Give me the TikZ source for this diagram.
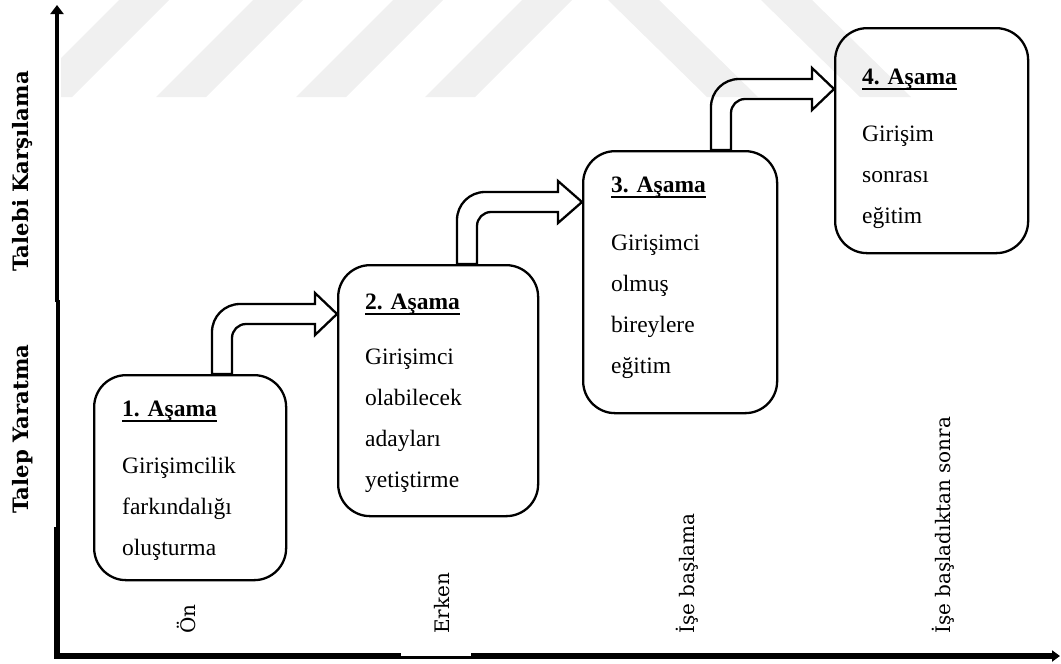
\documentclass[tikz,border=0pt]{standalone}
\usepackage{fontspec}
\setmainfont{Liberation Serif}
\newfontfamily\labfont{DejaVu Serif}
\usetikzlibrary{arrows.meta,calc}

\newcommand\ulhead[1]{\setbox0\hbox{\bfseries #1}\rlap{\copy0}\rule[-5.5pt]{\wd0}{2pt}}

\newcommand\stagearrow[5]{%
  \coordinate (sa) at (#3,#4);
  \coordinate (sb) at ({#3+20},#4);
  \coordinate (st) at (0,{#4+10});
  \draw[blk] (#1.north -| sa) -- ({#3},{#4+28})
     .. controls ({#3},{#4+12.5}) and ({#3+12.5},{#4}) .. ({#3+28},{#4})
     -- (#5,#4) -- (#5,{#4-11}) -- (#2.west |- st) -- (#5,{#4+31}) -- (#5,{#4+20})
     -- ({#3+34},{#4+20}) .. controls ({#3+26.3},{#4+20}) and ({#3+20},{#4+26.3}) .. ({#3+20},{#4+34})
     -- (#1.north -| sb) -- cycle;
}

\tikzset{
  stage/.style={draw, line width=2.3pt, rounded corners=32pt, inner sep=0, anchor=north west},
  stagetxt/.style={anchor=north west, inner sep=0, align=left, font=\fontsize{23.5}{41}\selectfont},
  blk/.style={draw, line width=2.3pt, line join=miter},
  axlab/.style={rotate=90, anchor=west, inner sep=0, font=\labfont\fontsize{20}{22}\selectfont},
  sidelab/.style={rotate=90, anchor=west, inner sep=0, font=\labfont\bfseries\fontsize{21.2}{23}\selectfont},
  wm/.style={fill=black!6, draw=none},
}

\begin{document}
\begin{tikzpicture}[x=1pt,y=-1pt]
\useasboundingbox (0,0) rectangle (1061,664);

% watermark
\begin{scope}
\clip (61,0) rectangle (1061,97);
\foreach \b in {22,156,296,425} \fill[wm] (\b,97) -- (\b+50,97) -- (\b+147,0) -- (\b+97,0) -- cycle;
\foreach \t in {608,761} \fill[wm] (\t,0) -- (\t+51,0) -- (\t+150,97) -- (\t+99,97) -- cycle;
\end{scope}

% axes
\coordinate (O) at (57,656);
\coordinate (ytop) at (57,5);
\coordinate (xend) at (1060,656);
\draw[line width=6pt] (O) -- (57,527);
\draw[line width=4.5pt] (58,528) -- (58,300);
\draw[line width=4.5pt,-{Triangle[width=13pt,length=9pt]}] (57,302) -- (ytop);
\draw[line width=5.5pt] (54,656) -- (401,656);
\draw[line width=3pt] (400,657.3) -- (472,657.3);
\draw[line width=5.5pt,-{Triangle[width=11pt,length=8pt]}] (471,656) -- (xend);

% stage boxes
\node[stage, minimum width=192pt, minimum height=205pt] (b1) at (93,374) {};
\node[stage, minimum width=200pt, minimum height=251pt] (b2) at (337,264) {};
\node[stage, minimum width=194pt, minimum height=262pt] (b3) at (582,150) {};
\node[stage, minimum width=193pt, minimum height=225pt] (b4) at (834,27) {};

\node[stagetxt] (t1) at ($(b1.north west)+(29,27)$) {\ulhead{1. Aşama}\\[16pt]Girişimcilik\\farkındalığı\\oluşturma};
\node[stagetxt] (t2) at ($(b2.north west)+(28,30)$) {\ulhead{2. Aşama}\\[14pt]Girişimci\\olabilecek\\adayları\\yetiştirme};
\node[stagetxt] (t3) at ($(b3.north west)+(29,27)$) {\ulhead{3. Aşama}\\[17pt]Girişimci\\olmuş\\bireylere\\eğitim};
\node[stagetxt] (t4) at ($(b4.north west)+(28,42)$) {\ulhead{4. Aşama}\\[16pt]Girişim\\sonrası\\eğitim};

% block arrows
\stagearrow{b1}{b2}{212}{304}{315}
\stagearrow{b2}{b3}{457}{192}{558}
\stagearrow{b3}{b4}{711}{79}{812}

% labels
\node[axlab] (l1) at (186,634) {Ön};
\node[axlab] (l2) at (442,634) {Erken};
\node[axlab] (l3) at (687,634) {İşe başlama};
\node[axlab] (l4) at (943,634) {İşe başladıktan sonra};
\node[sidelab] (s1) at (23,272) {Talebi Karşılama};
\node[sidelab] (s2) at (23,514) {Talep Yaratma};
\end{tikzpicture}
\end{document}
